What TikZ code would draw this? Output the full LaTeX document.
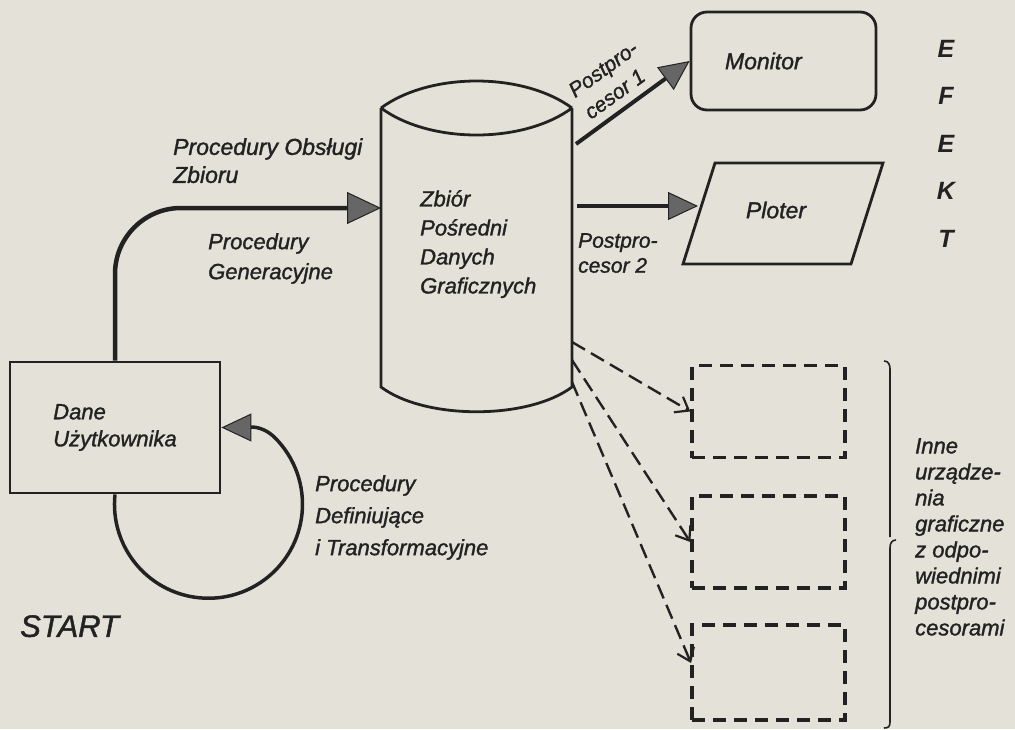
\documentclass[tikz,border=0pt]{standalone}
\usepackage{fontspec}
\setmainfont{Liberation Sans}[ItalicFeatures={FakeBold=1.4}]
\usetikzlibrary{arrows.meta,calc}
\definecolor{paper}{HTML}{E4E2D8}
\definecolor{ink}{HTML}{222222}
\definecolor{headgray}{HTML}{666666}
\begin{document}
\begin{tikzpicture}[x=1pt,y=-1pt,
  lbl/.style={inner sep=0pt, align=left, anchor=north west, text=ink, font=\itshape\fontsize{22}{29}\selectfont},
  solidbox/.style={draw=ink, line width=2.8pt},
  cyl/.style={draw=ink, line width=2.8pt},
  heavy/.style={draw=ink, line width=4.5pt},
  medium/.style={draw=ink, line width=4pt},
  bigtip/.style={-{Triangle[length=34pt,width=32pt,line width=1pt,fill=headgray]}},
  midtip/.style={-{Triangle[length=30pt,width=28pt,line width=1pt,fill=headgray]}},
  looptip/.style={-{Triangle[length=30pt,width=28pt,line width=1pt,fill=headgray]}},
  dashbox/.style={draw=ink, line width=3.3pt, dash pattern=on 13pt off 8pt, minimum width=153pt, minimum height=92pt, inner sep=0pt},
  dasharrow/.style={draw=ink, line width=2.4pt, dash pattern=on 15pt off 7pt, -{Straight Barb[length=12pt,width=18pt,line width=2.2pt]}},
  bracket/.style={draw=ink, line width=1.6pt},
]
\fill[paper] (0,0) rectangle (1015,729);
\useasboundingbox (0,0) rectangle (1015,729);

% ---------- cylinder: Zbior Posredni Danych Graficznych ----------
\coordinate (cTL) at (381,108);
\coordinate (cTR) at (572,108);
\coordinate (cBL) at (381,387);
\coordinate (cBR) at (572,387);
\draw[cyl] (cTL) .. controls (430,72) and (523,72) .. (cTR);
\draw[cyl] (cTL) .. controls (430,144) and (523,144) .. (cTR);
\draw[cyl] (cTL) -- (cBL) .. controls (425,420) and (528,420) .. (cBR) -- (cTR);
\node[lbl] (zbtext) at (420,190) {Zbiór\\Pośredni\\Danych\\Graficznych};

\coordinate (zbL) at (381,208);
\coordinate (zbP1) at (576,144);
\coordinate (zbP2) at (577,206);
\coordinate (zbD1) at (572,342);
\coordinate (zbD2) at (572,360);
\coordinate (zbD3) at (572,382);

% ---------- Dane Uzytkownika ----------
\node[solidbox, minimum width=210pt, minimum height=131pt, inner sep=0pt, align=left,
      text=ink, font=\itshape\fontsize{22}{27}\selectfont] (dane) at (115,427.5) {Dane\\Użytkownika};

% ---------- Monitor ----------
\node[solidbox, rounded corners=16pt, minimum width=185pt, minimum height=98pt, inner sep=0pt,
      text width=117pt, align=left, text=ink, font=\itshape\fontsize{23}{28}\selectfont] (mon) at (783.5,61) {Monitor};

% ---------- Ploter ----------
\coordinate (pTL) at (715,163);
\coordinate (pTR) at (883,163);
\coordinate (pBR) at (851,264);
\coordinate (pBL) at (683,264);
\draw[solidbox] (pTL) -- (pTR) -- (pBR) -- (pBL) -- cycle;
\node[inner sep=0pt, text=ink, font=\itshape\fontsize{23}{28}\selectfont] (ploter) at (776,210) {Ploter};
\coordinate (plIn) at (698,206);

% ---------- dashed boxes ----------
\node[dashbox] (d1) at (768.5,411.5) {};
\node[dashbox] (d2) at (768.5,542) {};
\node[dashbox, minimum height=95pt] (d3) at (768.5,672.5) {};
\coordinate (d3in) at (691,663);

% ---------- connectors ----------
\draw[heavy, bigtip, rounded corners=66pt] (dane.north) |- (zbL);
\draw[draw=ink, line width=3.5pt, looptip] (dane.south) arc[start angle=186, end angle=-45, radius=94]
   .. controls +(-14,-14) and (246,427.5) .. (dane.east);
\draw[medium, midtip] (zbP1) -- (mon.west);
\draw[medium, midtip] (zbP2) -- (plIn);
\draw[dasharrow] (zbD1) -- (d1.west);
\draw[dasharrow] (zbD2) -- (d2.west);
\draw[dasharrow] (zbD3) -- (d3in);

% ---------- bracket ----------
\draw[bracket] (884,361) .. controls (888,361) and (890,364) .. (890,369) -- (890,537);
\draw[bracket] (896,540) .. controls (892,540) and (890,543) .. (890,548) -- (890,722) .. controls (890,727) and (888,728) .. (884,728);

% ---------- labels ----------
\node[lbl, font=\itshape\fontsize{23}{28}\selectfont] (lobs) at (173,138) {Procedury Obsługi\\Zbioru};
\node[lbl, font=\itshape\fontsize{22}{30}\selectfont] (lgen) at (208,233) {Procedury\\Generacyjne};
\node[lbl, font=\itshape\fontsize{22}{32}\selectfont] (ldef) at (315,475) {Procedury\\Definiujące\\i Transformacyjne};
\node[inner sep=0pt, align=left, text=ink, rotate=36, font=\itshape\fontsize{21}{27}\selectfont] (lp1) at (611,80) {Postpro-\\cesor 1};
\node[lbl, font=\itshape\fontsize{21}{25}\selectfont] (lp2) at (578,233) {Postpro-\\cesor 2};
\node[lbl, font=\itshape\fontsize{22}{26}\selectfont] (linne) at (915,438) {Inne\\urządze-\\nia\\graficzne\\z odpo-\\wiednimi\\postpro-\\cesorami};
\node[inner sep=0pt, anchor=north west, text=ink, font=\itshape\fontsize{31}{31}\selectfont] (start) at (20,615) {START};
\node[inner sep=0pt, anchor=north, align=center, text=ink, font=\bfseries\itshape\fontsize{25}{47.5}\selectfont] (efekt) at (946,40) {E\\F\\E\\K\\T};
\end{tikzpicture}
\end{document}
